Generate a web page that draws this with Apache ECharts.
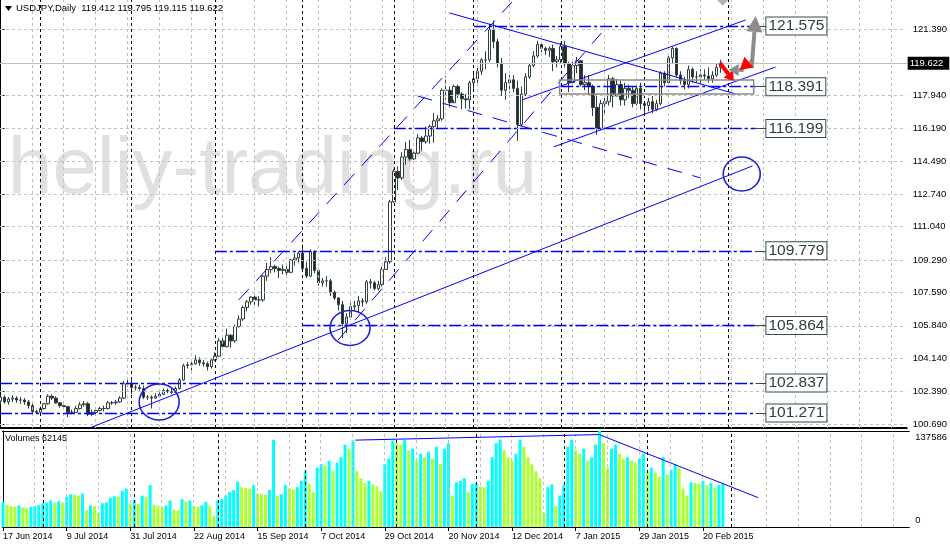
<!DOCTYPE html>
<html><head><meta charset="utf-8">
<script src="https://cdn.jsdelivr.net/npm/echarts@6/dist/echarts.min.js"></script>
<style>html,body{margin:0;padding:0;background:#fff;overflow:hidden}#c{width:950px;height:546px}</style>
</head><body><div id="c"></div>
<script>
// ---- data ----
const tickIdx = [0,16,32,48,64,80,96,112,128,144,160,176];
const tickLabels = ['17 Jun 2014','9 Jul 2014','31 Jul 2014','22 Aug 2014','15 Sep 2014','7 Oct 2014','29 Oct 2014','20 Nov 2014','12 Dec 2014','7 Jan 2015','29 Jan 2015','20 Feb 2015'];
const monthStarts = [10,33,54,76,99,119,141,162,183];
const priceTicks = [121.39,119.64,117.94,116.19,114.49,112.74,111.04,109.29,107.59,105.84,104.14,102.39,100.69];
const priceLabels = [121.39,117.94,116.19,114.49,112.74,111.04,109.29,107.59,105.84,104.14,102.39,100.69];
const lastPrice = 119.622;
const volMax = 137586;

const opens = [101.90,102.10,101.85,102.00,102.05,101.95,101.95,101.85,101.65,101.35,
101.30,101.50,101.75,102.15,102.05,101.80,101.65,101.60,101.30,101.30,101.50,101.70,101.75,101.20,101.30,101.40,101.50,101.50,101.80,101.80,101.85,102.05,102.80,
102.80,102.60,102.60,102.55,102.10,102.10,102.05,102.15,102.25,102.45,102.40,102.35,102.55,103.00,103.75,103.80,103.85,104.05,103.90,103.85,103.70,
104.05,104.25,105.05,104.75,105.35,105.05,105.80,106.20,106.80,107.10,107.35,107.20,107.20,108.45,108.80,108.95,108.85,108.75,108.80,108.65,109.30,109.40,
109.65,108.85,108.45,109.75,108.75,108.10,108.20,108.20,107.60,107.30,106.95,105.95,106.30,106.85,106.90,107.15,107.10,108.15,108.10,107.80,108.00,108.80,109.20,
112.35,113.95,113.60,114.70,115.10,114.60,114.90,115.70,115.50,115.80,116.30,116.60,116.70,118.20,118.20,117.55,118.40,118.00,117.75,117.70,
118.60,118.80,119.20,119.80,119.80,121.40,120.75,119.60,118.20,118.60,118.75,118.30,116.40,118.00,118.90,119.50,120.00,120.60,120.40,120.30,120.40,119.70,
119.80,120.50,119.60,118.60,119.50,119.75,118.50,118.60,118.40,117.30,116.20,117.50,117.60,118.80,117.90,118.50,117.70,118.30,118.20,117.50,118.30,
117.50,117.40,117.60,117.20,117.50,119.10,118.60,119.90,120.40,119.00,118.70,118.50,119.30,118.90,118.90,119.00,118.95,118.80,119.00,119.412];
const closes = [102.10,101.85,102.00,102.05,101.95,101.95,101.85,101.65,101.35,101.30,
101.50,101.75,102.15,102.05,101.80,101.65,101.60,101.30,101.30,101.50,101.70,101.75,101.20,101.30,101.40,101.50,101.50,101.80,101.80,101.85,102.05,102.80,102.80,
102.60,102.60,102.55,102.10,102.10,102.05,102.15,102.25,102.45,102.40,102.35,102.55,103.00,103.75,103.80,103.85,104.05,103.90,103.85,103.70,104.05,
104.25,105.05,104.75,105.35,105.05,105.80,106.20,106.80,107.10,107.35,107.20,107.20,108.45,108.80,108.95,108.85,108.75,108.80,108.65,109.30,109.40,109.65,
108.85,108.45,109.75,108.75,108.10,108.20,108.20,107.60,107.30,106.95,105.95,106.30,106.85,106.90,107.15,107.10,108.15,108.10,107.80,108.00,108.80,109.20,112.35,
113.95,113.60,114.70,115.10,114.60,114.90,115.70,115.50,115.80,116.30,116.60,116.70,118.20,118.20,117.55,118.40,118.00,117.75,117.70,118.60,
118.80,119.20,119.80,119.80,121.40,120.75,119.60,118.20,118.60,118.75,118.30,116.40,118.00,118.90,119.50,120.00,120.60,120.40,120.30,120.40,119.70,119.80,
120.50,119.60,118.60,119.50,119.75,118.50,118.60,118.40,117.30,116.20,117.50,117.60,118.80,117.90,118.50,117.70,118.30,118.20,117.50,118.30,117.50,
117.40,117.60,117.20,117.50,119.10,118.60,119.90,120.40,119.00,118.70,118.50,119.30,118.90,118.90,119.00,118.95,118.80,119.00,119.40,119.622];
const lows = [101.70,101.75,101.70,101.85,101.80,101.75,101.70,101.50,101.25,101.20,
101.25,101.45,101.70,101.95,101.75,101.55,101.45,101.05,101.20,101.30,101.45,101.60,101.10,101.10,101.25,101.35,101.35,101.45,101.70,101.70,101.80,102.00,102.65,
102.25,102.45,102.45,102.00,101.95,101.50,102.00,102.10,102.20,102.30,102.25,102.35,102.50,102.95,103.60,103.50,103.80,103.75,103.70,103.50,103.60,
104.00,104.20,104.60,104.70,104.70,104.95,105.75,106.10,106.60,106.95,106.95,106.85,107.10,108.20,108.60,108.65,108.35,108.55,108.45,108.60,109.00,109.15,
108.70,108.35,108.40,108.60,107.95,107.90,107.90,107.40,107.20,106.65,105.20,105.45,106.20,106.60,106.55,106.85,107.00,107.80,107.70,107.70,107.90,108.80,109.10,
112.30,112.95,113.50,114.30,114.50,114.55,114.85,115.00,115.40,115.40,115.45,116.20,116.60,117.70,117.30,117.70,117.80,117.20,117.25,117.20,
118.20,118.60,119.00,119.30,119.70,120.40,119.40,117.90,117.70,118.05,118.10,115.55,116.30,117.90,118.80,119.40,119.90,120.20,120.05,119.95,119.20,119.40,
119.60,119.40,118.10,118.50,119.10,118.40,118.20,117.90,116.85,115.85,116.10,117.00,117.40,117.30,117.90,117.40,117.40,117.80,117.30,117.40,117.20,
116.90,117.10,117.00,117.10,117.40,118.40,118.55,119.60,118.90,118.50,118.25,118.30,118.60,118.60,118.50,118.75,118.60,118.60,118.90,119.115];
const highs = [102.20,102.20,102.10,102.20,102.15,102.10,102.05,101.95,101.75,101.45,
101.60,101.80,102.25,102.25,102.15,101.85,101.70,101.65,101.45,101.65,101.85,101.90,101.85,101.45,101.50,101.60,101.65,101.90,101.90,101.95,102.15,102.95,103.10,
103.00,102.75,102.75,102.70,102.20,102.20,102.30,102.35,102.55,102.55,102.55,102.65,103.10,103.85,103.95,104.10,104.30,104.20,104.05,103.95,104.15,
104.45,105.20,105.20,105.70,105.40,105.90,106.40,106.90,107.20,107.40,107.40,107.40,108.50,109.15,109.45,109.05,108.95,109.05,109.00,109.35,109.65,109.75,
110.10,109.20,109.85,109.80,108.85,108.35,108.45,108.30,107.70,107.35,107.15,106.50,107.05,107.15,107.40,107.30,108.25,108.30,108.20,108.20,108.95,109.45,112.45,
114.05,114.20,114.95,115.50,115.60,115.00,115.90,115.80,116.30,116.40,117.00,116.90,118.30,118.95,118.40,118.50,118.50,118.10,118.00,118.70,
119.20,119.40,119.90,120.25,121.70,121.85,120.90,119.90,119.10,119.00,119.00,118.70,118.40,119.10,119.60,120.25,120.80,120.65,120.50,120.50,120.60,120.00,
120.70,120.80,119.70,119.70,119.95,119.80,119.00,119.00,118.50,118.00,117.70,117.80,119.00,118.90,118.80,118.70,118.60,118.50,118.40,118.50,118.60,
117.60,117.80,117.90,117.70,119.20,119.20,120.10,120.50,120.45,119.20,118.90,119.50,119.40,119.20,119.30,119.30,119.40,119.20,119.60,119.795];
const volumes = [36000,32000,30000,29000,31000,28000,27000,29000,30000,31000,
34000,35000,38000,35000,37000,35000,43000,47000,46000,45000,48000,
24000,31000,30000,20000,34000,35000,42000,44000,43000,52000,55000,34000,
39000,33000,45000,43000,60000,32000,30000,29000,31000,38000,25000,24000,40000,36000,38000,30000,29000,31000,36000,30000,16000,
38000,40000,45000,50000,53000,65000,57000,56000,55000,60000,48000,47000,46000,53000,125000,45000,47000,60000,55000,54000,57000,66000,
80000,62000,50000,85000,90000,88000,95000,80000,92000,100000,118000,112000,124000,80000,70000,63000,66000,61000,58000,51000,90000,98000,124000,
120000,118000,125000,110000,112000,95000,105000,100000,108000,98000,115000,90000,112000,120000,45000,64000,66000,70000,50000,62000,
63000,58000,57000,66000,100000,120000,125000,110000,100000,95000,105000,125000,115000,100000,90000,80000,70000,20000,57000,61000,30000,45000,
60000,115000,125000,110000,105000,112000,95000,100000,118000,137586,120000,85000,112000,118000,105000,98000,100000,95000,92000,98000,105000,
80000,85000,78000,72000,100000,75000,82000,90000,85000,55000,45000,64000,63000,62000,66000,60000,63000,56000,60000,62145];

// horizontal levels (price) and where each starts (bar index)
const levels = [121.575,118.391,116.199,109.779,105.864,102.837,101.271];
const levelStart = [119.1,141.0,98.9,53.9,75.9,-0.125,-0.125];
const levelEnd = 189.9, levelBox = 192.6;
// trendlines [barIndex1, price1, barIndex2, price2]
const trendSolid = [[22.4,100.48,189.1,114.23],[112.9,122.26,184.9,118.01],[131.1,117.69,187.4,121.89],[139.1,115.23,194.9,119.42]];
const trendDashed = [[59.9,107.20,128.6,122.83],[84.9,105.10,151.1,121.21],[104.9,117.90,176.1,113.60]];
const volTrend = [[88.6,124500,149.9,132500],[149.9,132500,189.9,42000]];
// ellipse centres [barIndex, price]
const ellipses = [[39.9,101.84],[87.9,105.73],[186.4,113.81]];
const ellipseR = [[20,18],[20,17.5],[18.5,17]];
const zoneRect = [[140.6,118.74,189.4,118.01]];
// arrows [bar1, price1, bar2, price2]
const arrows = [[188.9,119.37,189.9,122.10],[180.9,119.63,184.4,118.69],[186.9,119.27,183.1,119.27],[188.9,119.79,185.9,119.27]];
const arrowStyle = [{c:'#8c8c8c',w:4,h:16,hw:8},{c:'#ff0000',w:4,h:9,hw:6},{c:'#8c8c8c',w:4,h:10,hw:6},{c:'#ff0000',w:1,h:12,hw:7}];
// diamond marker (partly above the top edge) [bar, price]
const diamonds = [[181.6,123.0]];

// ---- chart ----
const chart = echarts.init(document.getElementById('c'), null, {renderer:'canvas'});
const XMIN = -0.125, XMAX = 227.875;
const FONT = 'Liberation Sans';
const blue = '#0000ff';
const candleData = opens.map((o,i)=>[i,o,closes[i],lows[i],highs[i]]);
const volData = volumes.map((v,i)=>({value:[i,v],itemStyle:{color:(i===0||v>volumes[i-1])?'#00ffff':'#adff2f'}}));
const vGrid = []; for(let k=0;k<=28;k++) vGrid.push(8*k+XMIN);

const gridLineMarks = (withH) => {
  const d = [];
  vGrid.forEach(v=>d.push({xAxis:v,lineStyle:{color:'#c0c0c0',type:[3,3],width:1}}));
  monthStarts.forEach(v=>d.push({xAxis:v,lineStyle:{color:'#000',type:[3,3],width:1}}));
  if(withH) priceTicks.forEach(p=>d.push({yAxis:p,lineStyle:{color:'#c0c0c0',type:[3,3],width:1}}));
  return {silent:true,symbol:'none',label:{show:false},animation:false,data:d};
};

const levelMarks = [];
levels.forEach((p,i)=>{
  levelMarks.push([{coord:[levelStart[i],p],lineStyle:{color:blue,width:1.4,type:[12,3,3,3]}},{coord:[levelEnd,p]}]);
  levelMarks.push([{coord:[levelEnd,p],lineStyle:{color:'#404848',width:1,type:'solid'},
    label:{show:true,position:'end',distance:0,formatter:p.toFixed(3),fontFamily:FONT,fontSize:15.5,color:'#2f4040',
      backgroundColor:'#ffffff',borderColor:'#2f4f4f',borderWidth:1,padding:[1,2,0,2]}},{coord:[levelBox,p]}]);
});
trendSolid.forEach(t=>levelMarks.push([{coord:[t[0],t[1]],lineStyle:{color:blue,width:1,type:'solid'}},{coord:[t[2],t[3]]}]));
trendDashed.forEach(t=>levelMarks.push([{coord:[t[0],t[1]],lineStyle:{color:blue,width:1,type:[15,11]}},{coord:[t[2],t[3]]}]));

const option = {
  animation:false,
  backgroundColor:'#ffffff',
  textStyle:{fontFamily:FONT},
  grid:[{left:0,top:0,width:912,height:428},{left:0,top:431,width:912,height:96}],
  xAxis:[
    {type:'value',gridIndex:0,min:XMIN,max:XMAX,axisLine:{show:true,lineStyle:{color:'#000',width:2}},axisTick:{show:false},axisLabel:{show:false},splitLine:{show:false}},
    {type:'value',gridIndex:1,min:XMIN,max:XMAX,axisLine:{show:true,lineStyle:{color:'#000',width:1}},
      axisTick:{show:true,customValues:tickIdx,length:4,lineStyle:{color:'#000'}},
      axisLabel:{show:true,customValues:tickIdx,formatter:v=>tickLabels[tickIdx.indexOf(Math.round(v))]||'',align:'left',margin:5,fontSize:9,color:'#000',fontFamily:FONT},
      splitLine:{show:false}},
    {type:'value',gridIndex:1,position:'top',min:XMIN,max:XMAX,axisLine:{show:true,lineStyle:{color:'#000',width:1}},axisTick:{show:false},axisLabel:{show:false},splitLine:{show:false}}
  ],
  yAxis:[
    {type:'value',gridIndex:0,position:'right',min:100.48,max:122.938,
      axisLine:{show:true,lineStyle:{color:'#000',width:1}},
      axisTick:{show:true,customValues:priceTicks,length:4,lineStyle:{color:'#000'}},
      axisLabel:{show:true,customValues:priceLabels,formatter:v=>v.toFixed(3),margin:6,fontSize:9.5,color:'#000',fontFamily:FONT},
      splitLine:{show:false}},
    {type:'value',gridIndex:1,position:'right',min:0,max:volMax,
      axisLine:{show:true,lineStyle:{color:'#000',width:1}},
      axisTick:{show:false},
      axisLabel:{show:true,customValues:[0,volMax],margin:6,fontSize:9.5,color:'#000',fontFamily:FONT,
        formatter:v=>v===0?'{b|0}':'{t|'+volMax+'}',rich:{t:{padding:[12,0,0,0],fontSize:9.5},b:{padding:[0,0,13,0],fontSize:9.5}}},
      splitLine:{show:false}}
  ],
  graphic:[
    {type:'text',z:-10,left:8,top:131,style:{text:'heliy-trading.ru',font:'80px "Liberation Sans"',fill:'#e0e0e0'}},
    {type:'polygon',z:50,shape:{points:[[5,6],[12,6],[8.5,11]]},style:{fill:'#000'}},
    {type:'text',z:50,left:16,top:3,style:{text:'USDJPY,Daily  119.412 119.795 119.115 119.622',font:'9.5px "Liberation Sans"',fill:'#000'}},
    {type:'text',z:50,left:5,top:434,style:{text:'Volumes 62145',font:'9px "Liberation Sans"',fill:'#000'}}
  ],
  series:[
    {type:'line',xAxisIndex:0,yAxisIndex:0,data:[],z:1,markLine:gridLineMarks(true)},
    {type:'line',xAxisIndex:1,yAxisIndex:1,data:[],z:1,markLine:gridLineMarks(false)},
    {type:'candlestick',xAxisIndex:0,yAxisIndex:0,z:3,barWidth:3,data:candleData,encode:{x:0,y:[1,2,3,4]},
      itemStyle:{color:'#ffffff',color0:'#1f2b2b',borderColor:'#2f3f3f',borderColor0:'#2f3f3f',borderWidth:1},
      markLine:{silent:true,symbol:'none',animation:false,
        data:[{yAxis:lastPrice,lineStyle:{color:'#c0c0c0',type:'solid',width:1},
          label:{show:true,position:'end',distance:1,formatter:lastPrice.toFixed(3),color:'#fff',backgroundColor:'#000',padding:[2,6,1,2],fontSize:9.5,fontFamily:FONT}}]}},
    {type:'line',xAxisIndex:0,yAxisIndex:0,data:[],z:4,markLine:{silent:true,symbol:'none',animation:false,label:{show:false},data:levelMarks}},
    {type:'bar',xAxisIndex:1,yAxisIndex:1,barWidth:3,data:volData,z:3},
    {type:'line',xAxisIndex:1,yAxisIndex:1,data:[],z:4,markLine:{silent:true,symbol:'none',animation:false,label:{show:false},
      data:volTrend.map(t=>[{coord:[t[0],t[1]],lineStyle:{color:blue,width:1,type:'solid'}},{coord:[t[2],t[3]]}])}},
    {type:'custom',xAxisIndex:0,yAxisIndex:0,z:5,data:ellipses,encode:{x:0,y:1},clip:false,
      renderItem:(params,api)=>{const c=api.coord([api.value(0),api.value(1)]);const r=ellipseR[params.dataIndex];
        return {type:'circle',x:c[0],y:c[1],scaleY:r[1]/r[0],shape:{cx:0,cy:0,r:r[0]},style:{fill:null,stroke:'#2020d8',lineWidth:1.6,strokeNoScale:true}};}},
    {type:'custom',xAxisIndex:0,yAxisIndex:0,z:5,data:zoneRect,encode:{x:[0,2],y:[1,3]},clip:false,
      renderItem:(params,api)=>{const a=api.coord([api.value(0),api.value(1)]);const b=api.coord([api.value(2),api.value(3)]);
        return {type:'rect',shape:{x:a[0],y:a[1],width:b[0]-a[0],height:b[1]-a[1]},style:{fill:null,stroke:'#8a8a8a',lineWidth:1.5}};}},
    {type:'custom',xAxisIndex:0,yAxisIndex:0,z:5,data:diamonds,encode:{x:0,y:1},clip:false,
      renderItem:(params,api)=>{const c=api.coord([api.value(0),api.value(1)]);
        return {type:'polygon',shape:{points:[[c[0]-7,c[1]],[c[0],c[1]-7],[c[0]+7,c[1]],[c[0],c[1]+7]]},style:{fill:'#b4b4b4'}};}},
    {type:'custom',xAxisIndex:0,yAxisIndex:0,z:6,data:arrows,encode:{x:[0,2],y:[1,3]},clip:false,
      renderItem:(params,api)=>{const a=api.coord([api.value(0),api.value(1)]);const b=api.coord([api.value(2),api.value(3)]);
        const s=arrowStyle[params.dataIndex];const ang=Math.atan2(b[1]-a[1],b[0]-a[0]);
        const bx=b[0]-s.h*Math.cos(ang),by=b[1]-s.h*Math.sin(ang);const px=-Math.sin(ang),py=Math.cos(ang);
        return {type:'group',children:[
          {type:'line',shape:{x1:a[0],y1:a[1],x2:bx,y2:by},style:{stroke:s.c,lineWidth:s.w}},
          {type:'polygon',shape:{points:[[b[0],b[1]],[bx+px*s.hw,by+py*s.hw],[bx-px*s.hw,by-py*s.hw]]},style:{fill:s.c}}]};}}
  ]
};
chart.setOption(option);
</script></body></html>
